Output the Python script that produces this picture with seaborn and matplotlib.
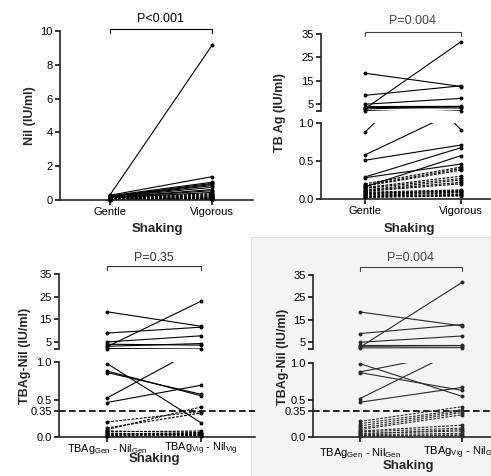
import numpy as np
import pandas as pd
import matplotlib
matplotlib.use("Agg")
import matplotlib.pyplot as plt
import seaborn as sns
from matplotlib.transforms import blended_transform_factory
from matplotlib.patches import Rectangle

# ---------------- data ----------------
categories_top = ["Gentle", "Vigorous"]
categories_bl = [r"TBAg$_{\mathrm{Gen}}$ - Nil$_{\mathrm{Gen}}$", r"TBAg$_{\mathrm{Vig}}$ - Nil$_{\mathrm{Vig}}$"]
categories_br = [r"TBAg$_{\mathrm{Gen}}$ - Nil$_{\mathrm{Gen}}$", r"TBAg$_{\mathrm{Vig}}$ - Nil$_{\mathrm{Gen}}$"]

nil_gentle = [0.30, 0.28, 0.25, 0.22, 0.20, 0.18, 0.17, 0.15, 0.14, 0.12, 0.11, 0.10, 0.09,
              0.08, 0.07, 0.06, 0.05, 0.05, 0.04, 0.03, 0.03, 0.02, 0.02, 0.01, 0.01, 0.01]
nil_vigorous = [9.15, 1.38, 1.05, 0.98, 0.92, 0.85, 0.75, 0.62, 0.55, 0.45, 0.38, 0.33, 0.28,
                0.24, 0.20, 0.17, 0.15, 0.12, 0.10, 0.09, 0.07, 0.06, 0.05, 0.04, 0.03, 0.02]

tbag_gentle = [18.2, 8.7, 3.0, 4.9, 3.9, 3.5, 2.9, 0.88, 2.2, 0.58, 0.51, 0.29, 0.28, 0.20, 0.18,
               0.17, 0.16, 0.15, 0.14, 0.12, 0.11, 0.10, 0.09, 0.08, 0.07, 0.06, 0.05, 0.04, 0.03, 0.02]
tbag_vigorous = [12.5, 12.8, 31.7, 7.4, 4.0, 3.3, 3.9, 2.1, 0.91, 1.18, 0.71, 0.675, 0.46, 0.42, 0.40,
                 0.38, 0.57, 0.30, 0.27, 0.25, 0.22, 0.20, 0.12, 0.10, 0.11, 0.09, 0.08, 0.06, 0.05, 0.04]

diff1_gen = [18.4, 9.0, 3.0, 5.1, 4.1, 3.2, 2.2, 0.98, 0.88, 0.86, 0.52, 0.46, 0.20, 0.12, 0.10,
             0.08, 0.07, 0.05, 0.04, 0.03, 0.02, 0.01]
diff1_vig = [12.0, 11.6, 23.0, 7.8, 3.7, 4.4, 2.0, 0.19, 0.55, 0.57, 1.2, 0.69, 0.34, 0.32, 0.40,
             0.06, 0.08, 0.03, 0.05, 0.02, 0.04, 0.01]

diff2_gen = [18.5, 8.9, 2.8, 5.0, 3.7, 2.5, 3.2, 0.99, 0.88, 0.87, 0.52, 0.47, 0.21, 0.18, 0.15,
             0.12, 0.10, 0.08, 0.07, 0.05, 0.04, 0.03, 0.02, 0.01]
diff2_vig = [12.3, 12.9, 31.7, 7.8, 3.7, 2.6, 3.5, 0.55, 1.15, 0.63, 1.2, 0.67, 0.41, 0.37, 0.35,
             0.33, 0.30, 0.16, 0.12, 0.08, 0.10, 0.05, 0.03, 0.02]

p_texts = ["P<0.001", "P=0.004", "P=0.35", "P=0.004"]
ylabels = ["Nil (IU/ml)", "TB Ag (IU/ml)", "TBAg-Nil (IU/ml)", "TBAg-Nil (IU/ml)"]
xlabel = "Shaking"
cutoff = 0.35

# ---------------- style ----------------
sns.set_theme(style="ticks")
plt.rcParams["font.family"] = ["Liberation Sans", "DejaVu Sans"]
plt.rcParams["mathtext.fontset"] = "custom"
plt.rcParams["mathtext.rm"] = "Liberation Sans"
plt.rcParams["mathtext.it"] = "Liberation Sans"

W, H = 491, 476
PT = 100 / 72.0  # px per point
TICK_LEN = 3.6
fig = plt.figure(figsize=(W / 100, H / 100), dpi=100)
fig.patch.set_facecolor("white")

# light grey panel behind bottom-right
fig.patches.append(Rectangle((251 / W, 0), 1 - 251 / W, 1 - 237 / H, transform=fig.transFigure,
                             facecolor="#f4f4f4", edgecolor="#e2e2e2", lw=0.8, zorder=-10))


def fy(y):
    return 1 - y / H


def add_ax(x0, x1, ytop, ybot):
    ax = fig.add_axes([x0 / W, 1 - ybot / H, (x1 - x0) / W, (ybot - ytop) / H])
    ax.set_facecolor("none")
    return ax


def xlim_from(axis_left, x_end, p0, p1):
    s = p1 - p0
    return (-(p0 - axis_left) / s, (x_end - p0) / s)


def style_ax(ax, bottom=True):
    for sp in ["top", "right"]:
        ax.spines[sp].set_visible(False)
    ax.spines["left"].set_linewidth(1.2)
    ax.spines["bottom"].set_linewidth(1.2)
    if not bottom:
        ax.spines["bottom"].set_visible(False)
        ax.tick_params(axis="x", bottom=False, labelbottom=False)
    ax.tick_params(direction="out", length=TICK_LEN, width=1.1, labelsize=8, pad=1.5, colors="black")
    ax.set_xlabel("")
    ax.set_ylabel("")


def set_xlabels(ax, labels, center_offset_px, size=8):
    ax.set_xticks([0, 1], labels)
    pad = center_offset_px / PT - TICK_LEN
    ax.tick_params(axis="x", pad=pad, labelsize=size)
    for t in ax.get_xticklabels():
        t.set_va("center")


def draw_pairs(ax, gen, vig, ylim, xlim, color):
    n = len(gen)
    df = pd.DataFrame({
        "id": np.repeat(np.arange(n), 2),
        "x": np.tile([0, 1], n),
        "y": np.ravel(np.column_stack([gen, vig])),
    })
    df["dash"] = np.repeat([max(g, v) < 0.45 for g, v in zip(gen, vig)], 2)
    solid = df[~df["dash"]]
    dash = df[df["dash"]]
    if len(solid):
        sns.lineplot(data=solid, x="x", y="y", units="id", estimator=None, color=color,
                     lw=0.8, ax=ax, legend=False, sort=False)
    if len(dash):
        sns.lineplot(data=dash, x="x", y="y", units="id", estimator=None, color=color,
                     lw=0.8, ls=(0, (2.5, 1.2)), ax=ax, legend=False, sort=False)
    pts = df[(df["y"] >= ylim[0]) & (df["y"] <= ylim[1])]
    sns.scatterplot(data=pts, x="x", y="y", color=color, s=8, linewidth=0, ax=ax,
                    clip_on=False, zorder=3, legend=False)
    ax.set_ylim(*ylim)
    ax.set_xlim(*xlim)


def bracket(ax, text, y_px, ty_px, color):
    tr = blended_transform_factory(ax.transData, fig.transFigure)
    ax.plot([0, 0, 1, 1], [fy(y_px + 4), fy(y_px), fy(y_px), fy(y_px + 4)], transform=tr,
            clip_on=False, color=color, lw=0.8)
    ax.text(0.5, fy(ty_px), text, transform=tr, ha="center", va="center", fontsize=9, color=color)


def broken_panel(axl, x_end, p0, p1, up_top, up_bot, lo_top, lo_bot, gen, vig, labels,
                 color, lower_ticks, lower_labels, lab_off, lab_size):
    xl = xlim_from(axl, x_end, p0, p1)
    up = add_ax(axl, x_end, up_top, up_bot)
    lo = add_ax(axl, x_end, lo_top, lo_bot)
    draw_pairs(up, gen, vig, (2, 35), xl, color)
    draw_pairs(lo, gen, vig, (0, 1.0), xl, color)
    style_ax(up, bottom=False)
    style_ax(lo)
    up.set_yticks([2, 5, 15, 25, 35], ["", "5", "15", "25", "35"])
    lo.set_yticks(lower_ticks, lower_labels)
    set_xlabels(lo, labels, lab_off, lab_size)
    return up, lo


# ---------------- top-left: Nil ----------------
ax1 = add_ax(60, 253, 31, 200)
draw_pairs(ax1, nil_gentle, nil_vigorous, (0, 10), xlim_from(60, 253, 110, 212), "black")
style_ax(ax1)
ax1.set_yticks([0, 2, 4, 6, 8, 10])
set_xlabels(ax1, categories_top, 12)
bracket(ax1, p_texts[0], 28.5, 18.5, "black")

# ---------------- top-right: TB Ag ----------------
up2, lo2 = broken_panel(321, 491, 365, 461, 34, 111, 123, 199, tbag_gentle, tbag_vigorous,
                        categories_top, "black", [0, 0.5, 1.0], ["0.0", "0.5", "1.0"], 12, 8)
bracket(up2, p_texts[1], 31.5, 20.5, "#444444")

# ---------------- bottom-left: TBAg-Nil ----------------
up3, lo3 = broken_panel(59, 255, 107, 201, 274, 349, 362, 437, diff1_gen, diff1_vig,
                        categories_bl, "black", [0, cutoff, 0.5, 1.0], ["0.0", "0.35", "0.5", "1.0"],
                        11.5, 7.8)
lo3.axhline(cutoff, color="black", ls=(0, (4, 2)), lw=1.2, zorder=1)
bracket(up3, p_texts[2], 266, 258, "#333333")

# ---------------- bottom-right: TBAg-Nil ----------------
up4, lo4 = broken_panel(313, 491, 360, 462, 275, 349, 363, 437, diff2_gen, diff2_vig,
                        categories_br, "#2a2a2a", [0, cutoff, 0.5, 1.0], ["0.0", "0.35", "0.5", "1.0"],
                        15.5, 8)
lo4.axhline(cutoff, color="black", ls=(0, (4, 2)), lw=1.2, zorder=1)
bracket(up4, p_texts[3], 267, 258, "#444444")

# ---------------- axis titles ----------------
xl_kw = dict(fontsize=9.5, fontweight="bold", ha="center", va="center")
yl_kw = dict(fontsize=9, fontweight="bold", ha="center", va="center", rotation=90)
fig.text(157 / W, fy(229), xlabel, **xl_kw)
fig.text(409 / W, fy(229), xlabel, **xl_kw)
fig.text(154 / W, fy(459), xlabel, **xl_kw)
fig.text(408 / W, fy(466), xlabel, **xl_kw)
fig.text(30 / W, fy(116), ylabels[0], **yl_kw)
fig.text(280 / W, fy(113), ylabels[1], **yl_kw)
fig.text(25 / W, fy(356), ylabels[2], **yl_kw)
fig.text(283 / W, fy(357), ylabels[3], **yl_kw)

fig.savefig("out.png", dpi=100)
